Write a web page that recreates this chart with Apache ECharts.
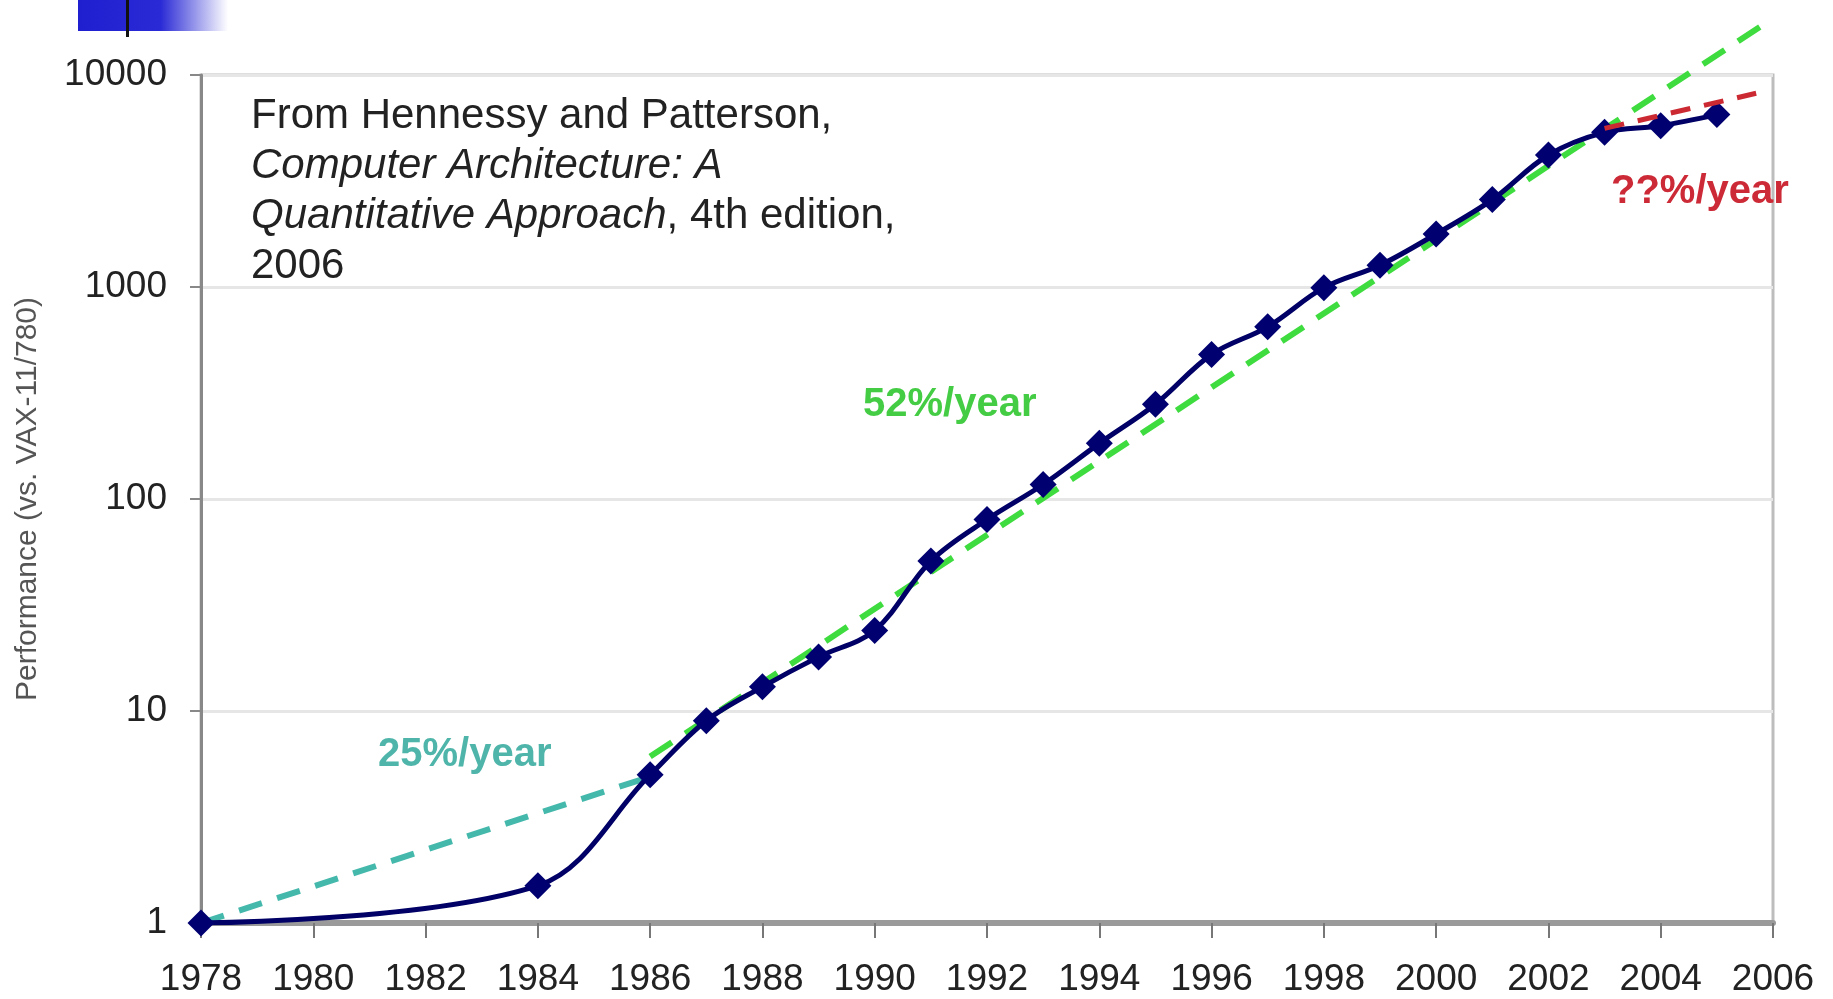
<!DOCTYPE html>
<html><head><meta charset="utf-8">
<script src="https://cdn.jsdelivr.net/npm/echarts@6/dist/echarts.min.js"></script>
<style>html,body{margin:0;padding:0;background:#fff}#c{width:1833px;height:999px}</style>
</head><body><div id="c"></div><script>
// ---- data ----
const years = [1978,1984,1986,1987,1988,1989,1990,1991,1992,1993,1994,1995,1996,1997,1998,1999,2000,2001,2002,2003,2004,2005];
const perf  = [1,1.5,5,9,13,18,24,51,80,117,183,280,481,649,993,1267,1779,2584,4195,5364,5764,6505];
const trend25Years = [1978, 1986];
const trend25Values = [1, 4.9];
const trend52Years = [1986, 2005.9];
const trend52Values = [6.1, 17800];
const trendQYears = [2003, 2005.7];
const trendQValues = [5600, 8200];
const xMin = 1978, xMax = 2006, xStep = 2;
const yMin = 1, yMax = 10000;
const yAxisTitle = 'Performance (vs. VAX-11/780)';
const labels = { r25: '25%/year', r52: '52%/year', rQ: '??%/year' };

const FONT = "'Liberation Sans', Arial, sans-serif";
const zip = (a, b) => a.map((v, i) => [v, b[i]]);

const chart = echarts.init(document.getElementById('c'), null, {renderer: 'canvas'});
chart.setOption({
  animation: false,
  backgroundColor: '#ffffff',
  grid: { left: 201, right: 60, top: 75, bottom: 76, show: true, borderColor: '#bdbdbd', borderWidth: 3, outerBoundsMode: 'none' },
  xAxis: {
    type: 'value', min: xMin, max: xMax, interval: xStep,
    axisLine: { show: true, lineStyle: { color: '#9a9a9a', width: 6 } },
    axisTick: { show: true, inside: false, length: 15, lineStyle: { color: '#777', width: 2 } },
    axisLabel: { margin: 38, fontSize: 37, fontFamily: FONT, color: '#222', formatter: v => String(v) },
    splitLine: { show: false }
  },
  yAxis: {
    type: 'log', logBase: 10, min: yMin, max: yMax,
    name: yAxisTitle, nameLocation: 'middle', nameGap: 158,
    nameTextStyle: { fontSize: 30, fontFamily: FONT, color: '#555' },
    axisLine: { show: true, lineStyle: { color: '#888', width: 3 } },
    axisTick: { show: true, inside: false, length: 11, lineStyle: { color: '#888', width: 2 } },
    axisLabel: { margin: 34, fontSize: 37, fontFamily: FONT, color: '#222', formatter: v => String(v) },
    splitLine: { show: true, lineStyle: { color: '#e6e6e6', width: 3 } },
    minorTick: { show: false }, minorSplitLine: { show: false }
  },
  series: [
    { type: 'line', name: '52', data: zip(trend52Years, trend52Values), clip: false, symbol: 'none', z: 2,
      lineStyle: { color: '#3fdc3f', width: 6, type: [26, 16] } },
    { type: 'line', name: '25', data: zip(trend25Years, trend25Values), clip: false, symbol: 'none', z: 2,
      lineStyle: { color: '#45b8ac', width: 6, type: [24, 16] } },
    { type: 'line', name: 'perf', data: zip(years, perf), smooth: 0.35, z: 3,
      symbol: 'diamond', symbolSize: 27,
      itemStyle: { color: '#000070' },
      lineStyle: { color: '#000066', width: 5 } },
    { type: 'line', name: 'q', data: zip(trendQYears, trendQValues), clip: false, symbol: 'none', z: 4,
      lineStyle: { color: '#cc2a33', width: 5, type: [20, 14] } }
  ],
  graphic: [
    { type: 'rect', left: 78, top: 0, shape: { width: 150, height: 31 }, z: 1,
      style: { fill: new echarts.graphic.LinearGradient(0, 0, 1, 0, [
        { offset: 0, color: '#1f1fd0' }, { offset: 0.55, color: '#2a2ad6' }, { offset: 1, color: 'rgba(255,255,255,1)' }]) } },
    { type: 'rect', left: 126, top: 0, shape: { width: 3, height: 37 }, z: 2, style: { fill: '#111' } },
    { type: 'text', left: 251, top: 95, z: 10,
      style: {
        text: '{n|From Hennessy and Patterson,}\n{i|Computer Architecture: A}\n{i|Quantitative Approach}{n|, 4th edition,}\n{n|2006}',
        rich: {
          n: { fontSize: 42, fontFamily: FONT, fill: '#222', lineHeight: 50 },
          i: { fontSize: 42, fontFamily: FONT, fill: '#222', fontStyle: 'italic', lineHeight: 50 }
        }
      } },
    { type: 'text', x: 863, y: 405, z: 10, style: { text: labels.r52, fontSize: 40, fontWeight: 'bold', fontFamily: FONT, fill: '#44cc44', verticalAlign: 'middle', align: 'left' } },
    { type: 'text', x: 378, y: 755, z: 10, style: { text: labels.r25, fontSize: 40, fontWeight: 'bold', fontFamily: FONT, fill: '#4fb5aa', verticalAlign: 'middle', align: 'left' } },
    { type: 'text', x: 1611, y: 192, z: 10, style: { text: labels.rQ, fontSize: 40, fontWeight: 'bold', fontFamily: FONT, fill: '#cc2a36', verticalAlign: 'middle', align: 'left' } }
  ]
});
</script></body></html>
